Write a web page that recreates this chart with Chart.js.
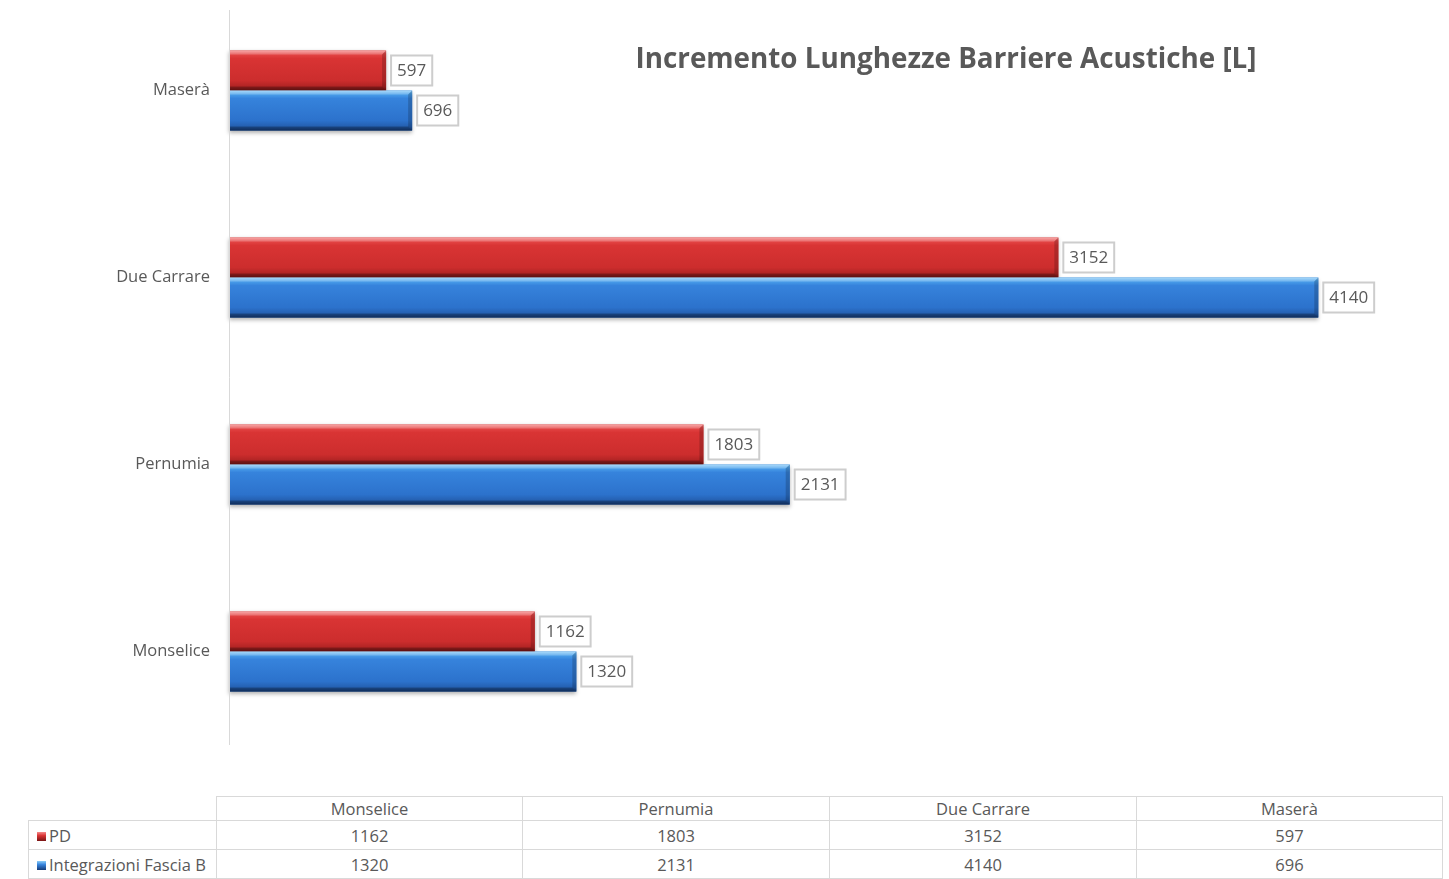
<!DOCTYPE html>
<html>
<head>
<meta charset="utf-8">
<script src="https://cdn.jsdelivr.net/npm/chart.js@4/dist/chart.umd.min.js"></script>
<style>
  html, body { margin: 0; padding: 0; background: #fff; overflow: hidden; }
  body { width: 1449px; height: 879px; position: relative; font-family: "Open Sans", sans-serif; color: #595959; }
  #wrap { position: absolute; left: 0; top: -13px; width: 1449px; height: 758px; }
  #title { position: absolute; left: 946px; top: 37px; transform: translateX(-50%); white-space: nowrap;
           font: bold 27.8px "Open Sans", sans-serif; line-height: 40px; color: #595959; }
  #dt { position: absolute; left: 28px; top: 796px; border-collapse: collapse; table-layout: fixed;
        font: 16.5px "Open Sans", sans-serif; color: #595959; }
  #dt td, #dt th { border: 1px solid #d9d9d9; padding: 0; text-align: center; font-weight: normal; white-space: nowrap; }
  #dt th { height: 23px; }
  #dt td { height: 28px; }
  #dt th.blank { border: none; }
  #dt td.lab { text-align: left; padding-left: 8px; }
  .key { display: inline-block; width: 9px; height: 9px; margin-right: 3px; vertical-align: 1px; }
</style>
</head>
<body>
<div id="wrap"><canvas id="chart"></canvas></div>
<div id="title">Incremento Lunghezze Barriere Acustiche [L]</div>
<table id="dt"></table>
<script>
// dati
const categories = ["Monselice", "Pernumia", "Due Carrare", "Maserà"];
const seriesNames = ["PD", "Integrazioni Fascia B"];
const pdValues = [1162, 1803, 3152, 597];
const fasciaBValues = [1320, 2131, 4140, 696];
const xMax = 4500;

// gradienti "3D" stile Excel
const palette = [
  { base: "#d63232", stops: ["#f58a8a", "#e54848", "#d93434", "#cc2d2d", "#b02424", "#7a1515"] },
  { base: "#2e78d4", stops: ["#8ccdf8", "#4da3ec", "#3683dc", "#2c72cc", "#245fb0", "#163c78"] },
];
const stopPos = [0, 0.08, 0.2, 0.75, 0.9, 1];

function barFill(ctx, top, bottom, idx) {
  const g = ctx.createLinearGradient(0, top, 0, bottom);
  palette[idx].stops.forEach((c, i) => g.addColorStop(stopPos[i], c));
  return g;
}

const fancyBars = {
  id: "fancyBars",
  afterDatasetsDraw(chart) {
    const ctx = chart.ctx;
    chart.data.datasets.forEach((ds, di) => {
      const meta = chart.getDatasetMeta(di);
      meta.data.forEach((el) => {
        const { x, y, base, height } = el.getProps(["x", "y", "base", "height"], true);
        const top = y - height / 2, bottom = y + height / 2;
        const left = base, right = x, b = 4;
        ctx.save();
        ctx.shadowColor = "rgba(0,0,0,0.3)";
        ctx.shadowBlur = 4;
        ctx.shadowOffsetY = 2;
        ctx.fillStyle = barFill(ctx, top, bottom, di);
        ctx.fillRect(left, top, right - left, height);
        ctx.restore();
        ctx.save();
        // bordo superiore chiaro
        ctx.fillStyle = "rgba(255,255,255,0.25)";
        ctx.beginPath();
        ctx.moveTo(left, top); ctx.lineTo(right, top); ctx.lineTo(right - b, top + b); ctx.lineTo(left, top + b);
        ctx.fill();
        // bordo inferiore scuro
        ctx.fillStyle = "rgba(0,0,0,0.25)";
        ctx.beginPath();
        ctx.moveTo(left, bottom - b); ctx.lineTo(right - b, bottom - b); ctx.lineTo(right, bottom); ctx.lineTo(left, bottom);
        ctx.fill();
        // smusso a destra
        ctx.fillStyle = "rgba(0,0,0,0.18)";
        ctx.beginPath();
        ctx.moveTo(right - b, top + b); ctx.lineTo(right, top); ctx.lineTo(right, bottom); ctx.lineTo(right - b, bottom - b);
        ctx.fill();
        ctx.restore();
      });
    });
  },
  afterDraw(chart) {
    const ctx = chart.ctx;
    ctx.save();
    ctx.font = '17px "Open Sans", sans-serif';
    ctx.textBaseline = "middle";
    ctx.textAlign = "left";
    chart.data.datasets.forEach((ds, di) => {
      chart.getDatasetMeta(di).data.forEach((el, i) => {
        const txt = String(ds.data[i]);
        const w = ctx.measureText(txt).width + 12, h = 30;
        const bx = el.x + 5, by = el.y - h / 2;
        ctx.fillStyle = "#fff";
        ctx.fillRect(bx, by, w, h);
        ctx.strokeStyle = "#cdcdcd";
        ctx.lineWidth = 2;
        ctx.strokeRect(bx, by, w, h);
        ctx.fillStyle = "#595959";
        ctx.fillText(txt, bx + 6, el.y + 1);
      });
    });
    // asse verticale
    const a = chart.chartArea;
    ctx.strokeStyle = "#d9d9d9";
    ctx.lineWidth = 1;
    ctx.beginPath();
    ctx.moveTo(a.left + 0.5, a.top + 13);
    ctx.lineTo(a.left + 0.5, a.bottom);
    ctx.stroke();
    ctx.restore();
  },
};

new Chart(document.getElementById("chart"), {
  type: "bar",
  data: {
    labels: categories,
    datasets: [
      { label: seriesNames[0], data: pdValues, backgroundColor: palette[0].base },
      { label: seriesNames[1], data: fasciaBValues, backgroundColor: palette[1].base },
    ],
  },
  options: {
    indexAxis: "y",
    responsive: true,
    maintainAspectRatio: false,
    animation: false,
    categoryPercentage: 0.428,
    barPercentage: 1,
    layout: { padding: { top: 10, right: 36, left: 0, bottom: 0 } },
    plugins: { legend: { display: false }, tooltip: { enabled: false } },
    scales: {
      x: { display: false, min: 0, max: xMax },
      y: {
        reverse: true,
        grid: { display: false, drawTicks: false },
        border: { display: false },
        ticks: { color: "#595959", font: { family: "Open Sans", size: 16.5 }, padding: 19 },
        afterFit: (scale) => {
          scale.width = 229;
          scale.paddingTop = 0;
          scale.paddingBottom = 0;
        },
      },
    },
  },
  plugins: [fancyBars],
});

// tabella dati
function keyStyle(idx) {
  const s = palette[idx].stops;
  return `background: linear-gradient(${s[0]}, ${s[2]} 40%, ${s[5]});`;
}
const vals = [pdValues, fasciaBValues];
let html = '<colgroup><col style="width:188px">' +
  categories.map((c, i) => `<col style="width:${i % 3 === 0 ? 306 : 307}px">`).join("") + "</colgroup>";
html += '<tr><th class="blank"></th>' + categories.map((c) => `<th>${c}</th>`).join("") + "</tr>";
seriesNames.forEach((n, si) => {
  html += `<tr><td class="lab"><span class="key" style="${keyStyle(si)}"></span>${n}</td>` +
    vals[si].map((v) => `<td>${v}</td>`).join("") + "</tr>";
});
document.getElementById("dt").innerHTML = html;
</script>
</body>
</html>
